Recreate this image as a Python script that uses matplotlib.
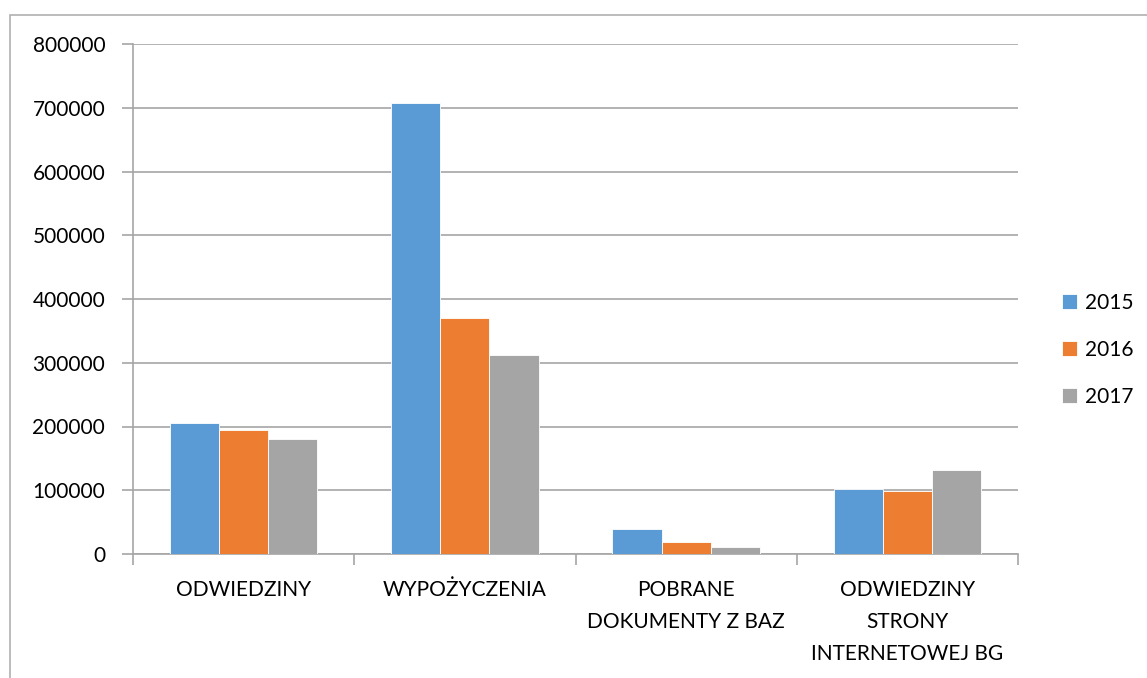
import numpy as np
import matplotlib.pyplot as plt
from matplotlib.patches import Rectangle

categories = ["ODWIEDZINY", "WYPOŻYCZENIA", "POBRANE\nDOKUMENTY Z BAZ",
              "ODWIEDZINY\nSTRONY\nINTERNETOWEJ BG"]
years = ["2015", "2016", "2017"]
values_2015 = [205000, 708000, 39600, 101500]
values_2016 = [194000, 370000, 18300, 98500]
values_2017 = [181000, 312500, 11000, 132500]
y_ticks = [0, 100000, 200000, 300000, 400000, 500000, 600000, 700000, 800000]

colors = ["#5B9BD5", "#ED7D31", "#A5A5A5"]
grid_col = "#A6A6A6"

plt.rcParams['font.family'] = ['Lato', 'DejaVu Sans']

W, H = 1147, 678
fig = plt.figure(figsize=(W / 100, H / 100), dpi=100)
ax = fig.add_axes([133 / W, 124 / H, (1018 - 133) / W, (554 - 44) / H])

# outer chart frame (runs off the right and bottom edge)
fig.patches.append(Rectangle((10 / W, -0.1), 1.2, (H - 15) / H + 0.1,
                             transform=fig.transFigure, fill=False,
                             edgecolor="#B0B0B0", linewidth=1.2))

x = np.arange(len(categories))
bw = 0.222
series = [values_2015, values_2016, values_2017]
for i, (vals, c, lab) in enumerate(zip(series, colors, years)):
    ax.bar(x + (i - 1) * bw, vals, width=bw, color=c, label=lab,
           edgecolor="white", linewidth=0.6, zorder=3)

ax.set_xlim(-0.5, len(categories) - 0.5)
ax.set_ylim(0, 800000)
ax.set_yticks(y_ticks)
ax.set_yticklabels([str(v) for v in y_ticks])
ax.yaxis.grid(True, color=grid_col, linewidth=1.2, zorder=0)

ax.set_xticks(x)
ax.set_xticklabels(categories, linespacing=1.75)
ax.set_xticks(np.arange(len(categories) + 1) - 0.5, minor=True)
ax.tick_params(axis='x', which='major', length=0, pad=19, labelsize=15)
ax.tick_params(axis='x', which='minor', length=8, width=1.2, color=grid_col,
               direction='out')
ax.tick_params(axis='y', length=8, width=1.2, color=grid_col, pad=12,
               labelsize=15)

for s in ['top', 'right']:
    ax.spines[s].set_visible(False)
for s in ['left', 'bottom']:
    ax.spines[s].set_color(grid_col)
    ax.spines[s].set_linewidth(1.2)

leg = ax.legend(loc='center left', bbox_to_anchor=(1.028, 0.40), frameon=False,
                fontsize=15, handlelength=0.75, handleheight=0.75,
                handletextpad=0.4, labelspacing=1.3)

fig.savefig("out.png", dpi=100)
